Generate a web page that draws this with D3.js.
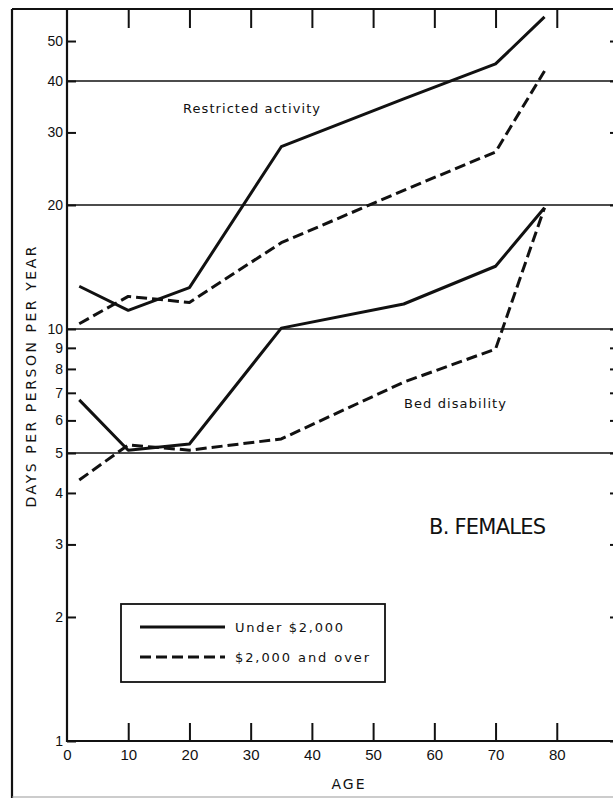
<!DOCTYPE html>
<html>
<head>
<meta charset="utf-8">
<script src="https://cdn.jsdelivr.net/npm/d3@7"></script>
<style>
  html, body { margin:0; padding:0; background:#fff; }
  svg { display:block; font-family:"DejaVu Sans", sans-serif; }
  .axis path { display:none; }
  .axis line { stroke:#111; stroke-width:2; }
  .axis text { fill:#111; }
</style>
</head>
<body>
<svg id="svg" width="613" height="798"></svg>
<script>
// ages at the middle of each age group
const ages = [2, 10, 20, 35, 55, 70, 78];
const restrictedUnder = [12.7, 11.1, 12.6, 27.7, 36.2, 44.0, 57.2];
const restrictedOver  = [10.3, 12.0, 11.6, 16.2, 21.7, 26.9, 42.3];
const bedUnder = [6.73, 5.08, 5.26, 10.05, 11.5, 14.2, 19.7];
const bedOver  = [4.30, 5.23, 5.08, 5.41, 7.43, 8.94, 19.7];

const xTicks = [0, 10, 20, 30, 40, 50, 60, 70, 80];
const yTicks = [1, 2, 3, 4, 5, 6, 7, 8, 9, 10, 20, 30, 40, 50];
const gridValues = [5, 10, 20, 40];
const legendLabels = ['Under $2,000', '$2,000 and over'];

const svg = d3.select('#svg');
const frame = { left:12, top:9, bottom:797 };
const plotTop = 9, plotLeft = 67, plotRight = 618, plotBottom = 741;

const x = d3.scaleLinear().domain([0, 90]).range([plotLeft, plotRight]);
const y = d3.scaleLog().domain([1, 10]).range([plotBottom, 329]);

// outer frame
svg.append('line').attr('x1', frame.left).attr('x2', frame.left).attr('y1', frame.top).attr('y2', 798)
  .attr('stroke', '#111').attr('stroke-width', 2.2);
svg.append('line').attr('x1', frame.left).attr('x2', 613).attr('y1', frame.top).attr('y2', frame.top)
  .attr('stroke', '#111').attr('stroke-width', 2);
svg.append('line').attr('x1', frame.left).attr('x2', 613).attr('y1', frame.bottom).attr('y2', frame.bottom)
  .attr('stroke', '#999').attr('stroke-width', 1);

// grid lines
svg.append('g').selectAll('line').data(gridValues).join('line')
  .attr('x1', plotLeft).attr('x2', plotRight)
  .attr('y1', d => y(d)).attr('y2', d => y(d))
  .attr('stroke', '#111').attr('stroke-width', 1.6);

// plot borders
svg.append('line').attr('x1', plotLeft).attr('x2', plotLeft).attr('y1', plotTop).attr('y2', plotBottom + 1)
  .attr('stroke', '#111').attr('stroke-width', 2.2);
svg.append('line').attr('x1', plotLeft - 1).attr('x2', plotRight).attr('y1', plotBottom).attr('y2', plotBottom)
  .attr('stroke', '#111').attr('stroke-width', 2.2);

// axes
const fmt = d => String(d);
svg.append('g').attr('class', 'axis').attr('transform', `translate(${plotLeft},0)`)
  .call(d3.axisRight(y).tickValues(yTicks).tickFormat('').tickSizeInner(9).tickSizeOuter(0));
svg.append('g').attr('class', 'axis').attr('transform', `translate(${plotLeft},0)`)
  .call(d3.axisLeft(y).tickValues(yTicks).tickFormat(fmt).tickSize(0).tickPadding(4))
  .selectAll('text').attr('font-size', 14);
svg.append('g').attr('class', 'axis').attr('transform', `translate(${plotRight},0)`)
  .call(d3.axisLeft(y).tickValues(yTicks).tickFormat('').tickSizeInner(8).tickSizeOuter(0));

const xIn = xTicks.filter(d => d > 0);
svg.append('g').attr('class', 'axis').attr('transform', `translate(0,${plotBottom})`)
  .call(d3.axisTop(x).tickValues(xIn).tickFormat('').tickSizeInner(18).tickSizeOuter(0));
svg.append('g').attr('class', 'axis').attr('transform', `translate(0,${plotTop})`)
  .call(d3.axisBottom(x).tickValues(xIn).tickFormat('').tickSizeInner(19).tickSizeOuter(0));
svg.append('g').attr('class', 'axis').attr('transform', `translate(0,${plotBottom})`)
  .call(d3.axisBottom(x).tickValues(xTicks).tickFormat(fmt).tickSize(0).tickPadding(8))
  .selectAll('text').attr('font-size', 15);

// axis titles
svg.append('text').attr('transform', 'translate(36,377) rotate(-90)')
  .attr('text-anchor', 'middle').attr('font-size', 14).attr('fill', '#111')
  .attr('textLength', 261).attr('lengthAdjust', 'spacing')
  .text('DAYS PER PERSON PER YEAR');
svg.append('text').attr('x', 349).attr('y', 789).attr('text-anchor', 'middle')
  .attr('font-size', 14).attr('fill', '#111').attr('letter-spacing', 2).text('AGE');

// series
const line = d3.line().x(d => x(d[0])).y(d => y(d[1]));
const series = [
  { values: restrictedUnder, dash: null },
  { values: restrictedOver, dash: '11,5' },
  { values: bedUnder, dash: null },
  { values: bedOver, dash: '11,5' }
];
svg.append('g').selectAll('path').data(series).join('path')
  .attr('d', s => line(ages.map((a, i) => [a, s.values[i]])))
  .attr('fill', 'none').attr('stroke', '#111').attr('stroke-width', 3)
  .attr('stroke-linejoin', 'round')
  .attr('stroke-dasharray', s => s.dash);

// annotations
svg.append('text').attr('x', 183).attr('y', 113).attr('font-size', 13).attr('fill', '#111')
  .attr('textLength', 137).attr('lengthAdjust', 'spacing').text('Restricted activity');
svg.append('text').attr('x', 404).attr('y', 408).attr('font-size', 13).attr('fill', '#111')
  .attr('textLength', 102).attr('lengthAdjust', 'spacing').text('Bed disability');
svg.append('text').attr('x', 429).attr('y', 534).attr('font-size', 21).attr('fill', '#111')
  .attr('textLength', 117).attr('lengthAdjust', 'spacing').text('B. FEMALES');

// legend
const lg = svg.append('g');
lg.append('rect').attr('x', 121).attr('y', 604).attr('width', 264).attr('height', 78)
  .attr('fill', '#fff').attr('stroke', '#111').attr('stroke-width', 1.8);
const ly = d3.scalePoint().domain(legendLabels).range([627, 657]);
lg.selectAll('line').data(legendLabels).join('line')
  .attr('x1', 140).attr('x2', 225).attr('y1', d => ly(d)).attr('y2', d => ly(d))
  .attr('stroke', '#111').attr('stroke-width', 3)
  .attr('stroke-dasharray', (d, i) => i ? '11,5' : null);
lg.selectAll('text').data(legendLabels).join('text')
  .attr('x', 235).attr('y', d => ly(d) + 5).attr('font-size', 13).attr('fill', '#111')
  .attr('textLength', (d, i) => i ? 134 : 108).attr('lengthAdjust', 'spacing')
  .text(d => d);
</script>
</body>
</html>
